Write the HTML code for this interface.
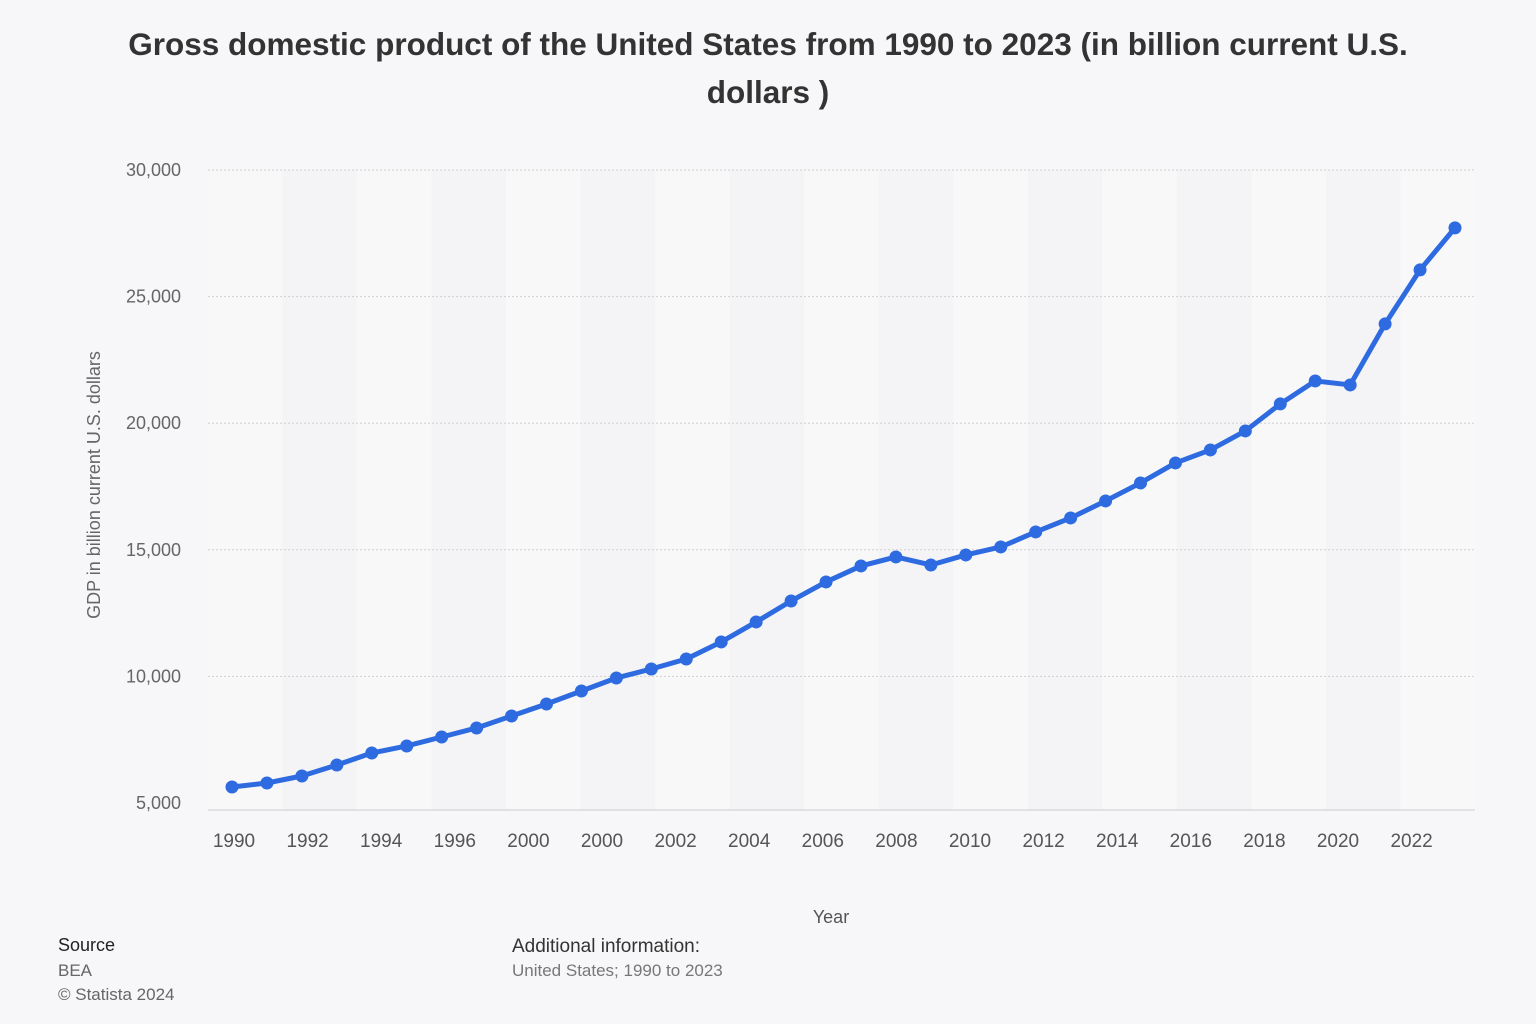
<!DOCTYPE html>
<html><head><meta charset="utf-8"><style>
html,body{margin:0;padding:0;background:#f7f6f8;width:1536px;height:1024px;overflow:hidden;font-family:"Liberation Sans",sans-serif}
.t{position:absolute;left:0;width:1536px;text-align:center;font-weight:bold;font-size:31.5px;color:#333;line-height:48px}
</style></head><body>
<div class="t" style="top:20px">Gross domestic product of the United States from 1990 to 2023 (in billion current U.S.<br>dollars )</div>
<svg id="c" width="1536" height="1024" style="position:absolute;left:0;top:0"></svg>
<div style="position:absolute;left:58px;top:935px;font-size:18px;color:#222">Source</div>
<div style="position:absolute;left:58px;top:961px;font-size:17px;color:#666">BEA</div>
<div style="position:absolute;left:58px;top:985px;font-size:17px;color:#666">© Statista 2024</div>
<div style="position:absolute;left:512px;top:936px;font-size:19px;color:#333">Additional information:</div>
<div style="position:absolute;left:512px;top:961px;font-size:17px;color:#777">United States; 1990 to 2023</div>
<script>
const values=[5632,5790,6066,6501,6975,7252,7607,7963,8437,8911,9424,9938,10293,10688,11360,12150,12979,13730,14362,14717,14401,14796,15112,15705,16258,16929,17640,18430,18944,19694,20761,21669,21511,23921,26054,27713];
const yTicks=[5000,10000,15000,20000,25000,30000];
const yTickLabels=["5,000","10,000","15,000","20,000","25,000","30,000"];
const xTickLabels=["1990","1992","1994","1996","2000","2000","2002","2004","2006","2008","2010","2012","2014","2016","2018","2020","2022"];
const NS="http://www.w3.org/2000/svg";
const svg=document.getElementById('c');
const x0=232,x1=1455,plotL=208,plotR=1475;
function xs(i){return x0+(x1-x0)*i/(values.length-1);}
function ys(v){return 803-(v-5000)*(803-170)/25000;}
function mk(t,a,p){const e=document.createElementNS(NS,t);for(const k in a)e.setAttribute(k,a[k]);(p||svg).appendChild(e);return e;}
for(let i=0;i<17;i++){
  const bx=plotL+i*(plotR-plotL)/17;
  const b=mk('rect',{x:bx,y:170,width:(plotR-plotL)/17,height:640,fill:i%2?'#f4f4f6':'#f8f8f9'});
  
  
}
yTicks.forEach((v,i)=>{
  const y=ys(v);
  if(i>0){const g=mk('line',{x1:plotL,x2:plotR,y1:y,y2:y,stroke:'#d0d0d0','stroke-dasharray':'2,2'});
  
  }
  const t=mk('text',{x:181,y:y+6,'text-anchor':'end','font-size':18,fill:'#666','font-family':'Liberation Sans, sans-serif'});
  t.textContent=yTickLabels[i];
  
  
});
const ax=mk('line',{x1:plotL,x2:plotR,y1:810,y2:810,stroke:'#ccc'});


xTickLabels.forEach((l,i)=>{
  const t=mk('text',{x:234+i*73.6,y:847,'text-anchor':'middle','font-size':19,fill:'#555','font-family':'Liberation Sans, sans-serif'});
  t.textContent=l;
  
  
});
const xt=mk('text',{x:831,y:923,'text-anchor':'middle','font-size':18,fill:'#555','font-family':'Liberation Sans, sans-serif'});
xt.textContent='Year';


const yt=mk('text',{x:0,y:0,'text-anchor':'middle','font-size':18,fill:'#666','font-family':'Liberation Sans, sans-serif',transform:'translate(100,485) rotate(-90)'});
yt.textContent='GDP in billion current U.S. dollars';


const line=mk('polyline',{points:values.map((v,i)=>xs(i)+','+ys(v)).join(' '),fill:'none',stroke:'#2f6be0','stroke-width':5,'stroke-linejoin':'round'});


values.forEach((v,i)=>{
  const c=mk('circle',{cx:xs(i),cy:ys(v),r:6.5,fill:'#2f6be0'});
  
  
});
</script>
</body></html>
